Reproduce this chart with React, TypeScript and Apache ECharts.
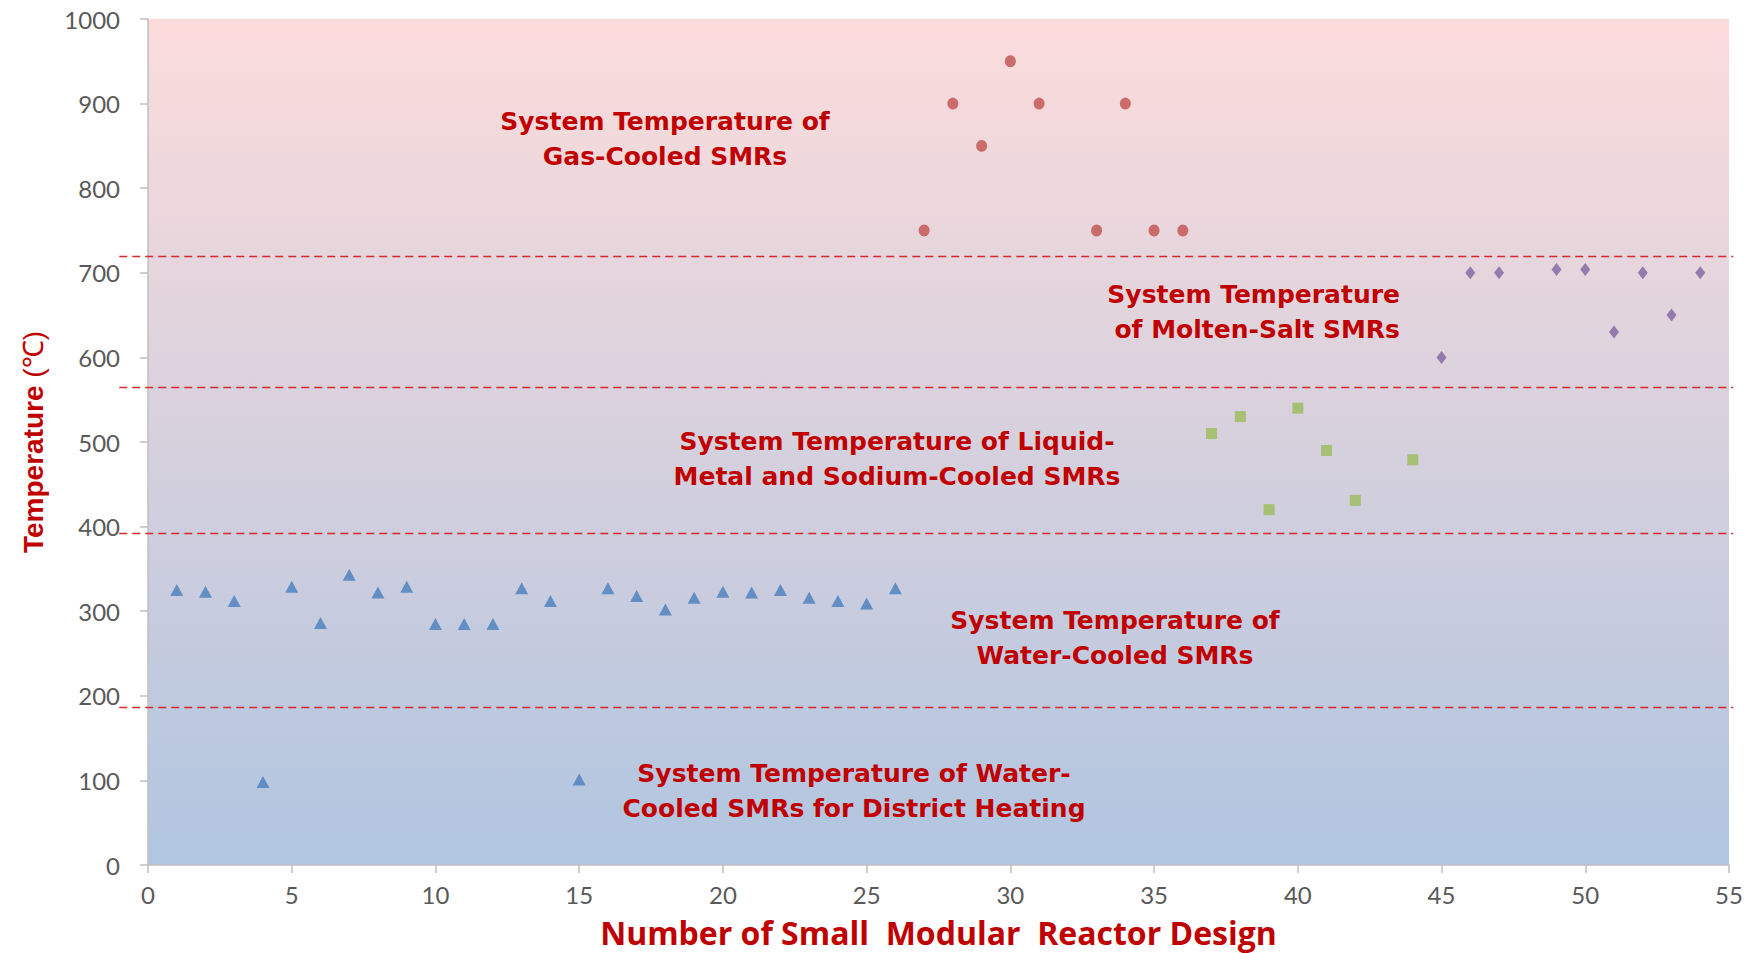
import React, { useEffect, useRef } from "react";
import * as echarts from "echarts";

// Water-cooled SMRs (incl. two district-heating designs at ~100 °C)
const waterX = [1, 2, 3, 4, 5, 6, 7, 8, 9, 10, 11, 12, 13, 14, 15, 16, 17, 18, 19, 20, 21, 22, 23, 24, 25, 26];
const waterY = [325, 323, 312, 98, 329, 286, 343, 322, 329, 285, 285, 285, 327, 312, 101, 327, 318, 302, 316, 323, 322, 325, 316, 312, 309, 327];
// Gas-cooled SMRs
const gasX = [27, 28, 29, 30, 31, 33, 34, 35, 36];
const gasY = [750, 900, 850, 950, 900, 750, 900, 750, 750];
// Liquid-metal & sodium-cooled SMRs
const metalX = [37, 38, 39, 40, 41, 42, 44];
const metalY = [510, 530, 420, 540, 490, 431, 479];
// Molten-salt SMRs
const saltX = [45, 46, 47, 49, 50, 51, 52, 53, 54];
const saltY = [600, 700, 700, 704, 704, 630, 700, 650, 700];
// Dashed boundaries between the groups
const boundaries = [720, 565, 392, 187];

const xMin = 0;
const xMax = 55;
const xStep = 5;
const yMin = 0;
const yMax = 1000;
const yStep = 100;

const xTitle = "Number of Small  Modular  Reactor Design";
const yTitle = "Temperature";
const yUnit = " (\u2103)";

const labelGas = "System Temperature of\nGas-Cooled SMRs";
const labelSalt = "System Temperature\nof Molten-Salt SMRs";
const labelMetal = "System Temperature of Liquid-\nMetal and Sodium-Cooled SMRs";
const labelWater = "System Temperature of\nWater-Cooled SMRs";
const labelHeat = "System Temperature of Water-\nCooled SMRs for District Heating";

const zip = (xs: number[], ys: number[]) => xs.map((x, i) => [x, ys[i]]);

const RED = "#c00000";
const ANNOT_FONT = "'DejaVu Sans', 'Open Sans', sans-serif";

export default function App() {
  const ref = useRef<HTMLDivElement>(null);

  useEffect(() => {
    document.body.style.margin = "0";
    const chart = echarts.init(ref.current!, undefined, { renderer: "svg" });
    const annot = (text: string, x: number, y: number, align = "center") => ({
      type: "text",
      x,
      y,
      z: 10,
      style: {
        text,
        fill: RED,
        fontSize: 25,
        fontWeight: "bold",
        fontFamily: ANNOT_FONT,
        align,
        verticalAlign: "middle",
        lineHeight: 35.5,
      },
    });

    chart.setOption({
      animation: false,
      grid: {
        left: 148,
        right: 19,
        top: 19,
        bottom: 86,
        show: true,
        borderWidth: 0,
        backgroundColor: new echarts.graphic.LinearGradient(0, 0, 0, 1, [
          { offset: 0, color: "#fcdcdb" },
          { offset: 1, color: "#b0c5e0" },
        ]),
      },
      xAxis: {
        type: "value",
        min: xMin,
        max: xMax,
        interval: xStep,
        name: xTitle,
        nameLocation: "middle",
        nameGap: 51,
        nameTextStyle: {
          color: RED,
          fontSize: 32,
          fontWeight: "bold",
          fontFamily: "'Open Sans', Lato, sans-serif",
        },
        axisLine: { show: true, lineStyle: { color: "#bfbfbf", width: 1.5 } },
        axisTick: { show: true, length: 8, lineStyle: { color: "#bfbfbf", width: 1.5 } },
        axisLabel: { color: "#595959", fontSize: 24, fontFamily: "Lato, sans-serif", margin: 17 },
        splitLine: { show: false },
      },
      yAxis: {
        type: "value",
        min: yMin,
        max: yMax,
        interval: yStep,
        name: `{b|${yTitle}}{n|${yUnit}}`,
        nameLocation: "middle",
        nameRotate: 90,
        nameGap: 101,
        nameTextStyle: {
          rich: {
            b: {
              color: RED,
              fontSize: 28,
              fontWeight: "bold",
              fontFamily: "'Liberation Sans', Arial, sans-serif",
            },
            n: {
              color: RED,
              fontSize: 28,
              fontFamily: "'Liberation Sans', Arial, sans-serif",
            },
          },
        },
        axisLine: { show: true, lineStyle: { color: "#bfbfbf", width: 1.5 } },
        axisTick: { show: true, length: 8, lineStyle: { color: "#bfbfbf", width: 1.5 } },
        axisLabel: {
          color: "#595959",
          fontSize: 24,
          fontFamily: "Lato, sans-serif",
          margin: 28,
          formatter: (v: number) => String(v),
        },
        splitLine: { show: false },
      },
      series: [
        {
          name: "Water-Cooled",
          type: "scatter",
          data: zip(waterX, waterY),
          symbol: "triangle",
          symbolSize: [13, 12],
          itemStyle: { color: "#4a7ebb" },
        },
        {
          name: "Gas-Cooled",
          type: "scatter",
          data: zip(gasX, gasY),
          symbol: "circle",
          symbolSize: [11, 12],
          itemStyle: { color: "#c0504d" },
        },
        {
          name: "Liquid-Metal",
          type: "scatter",
          data: zip(metalX, metalY),
          symbol: "rect",
          symbolSize: 11,
          itemStyle: { color: "#9bbb59" },
        },
        {
          name: "Molten-Salt",
          type: "scatter",
          data: zip(saltX, saltY),
          symbol: "diamond",
          symbolSize: [10, 13],
          itemStyle: { color: "#8064a2" },
        },
      ],
    });

    // dashed boundary lines, placed through the axes' scales (they overhang the plot a little)
    const xl = chart.convertToPixel({ xAxisIndex: 0 }, xMin - 1) as number;
    const xr = chart.convertToPixel({ xAxisIndex: 0 }, xMax + 0.15) as number;
    const lines = boundaries.map((v) => {
      const y = Math.round(chart.convertToPixel({ yAxisIndex: 0 }, v) as number) + 0.5;
      return {
        type: "line",
        z: 5,
        shape: { x1: xl, y1: y, x2: xr, y2: y },
        style: { stroke: "#d42a2a", lineWidth: 1.5, lineDash: [8, 5] },
      };
    });

    chart.setOption({
      graphic: [
        ...lines,
        annot(labelGas, 665, 139),
        annot(labelSalt, 1400, 312, "right"),
        annot(labelMetal, 897, 459),
        annot(labelWater, 1115, 638),
        annot(labelHeat, 854, 791),
      ],
    });

    return () => chart.dispose();
  }, []);

  return <div ref={ref} style={{ width: 1748, height: 953 }} />;
}
